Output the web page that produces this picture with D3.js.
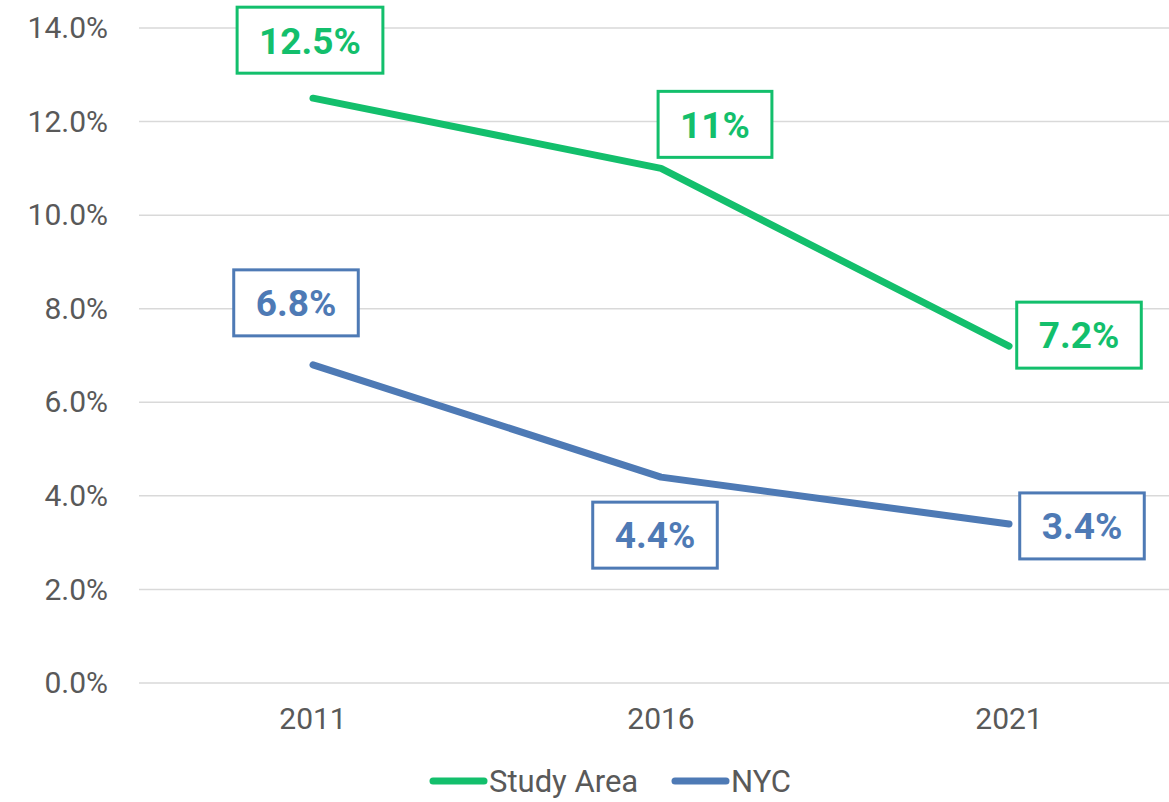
<!DOCTYPE html>
<html>
<head>
<meta charset="utf-8">
<script src="https://cdn.jsdelivr.net/npm/d3@7"></script>
<style>
  body { margin: 0; background: #fff; }
  svg { display: block; font-family: Roboto, sans-serif; }
</style>
</head>
<body>
<div id="chart"></div>
<script>
// data
const years = ['2011', '2016', '2021'];
const studyArea = [0.125, 0.11, 0.072];
const nyc = [0.068, 0.044, 0.034];
const yTicks = [0, 0.02, 0.04, 0.06, 0.08, 0.10, 0.12, 0.14];

const width = 1169, height = 802;

const series = [
  { name: 'Study Area', values: studyArea, color: '#13BF6C',
    // label box centre relative to the point
    offsets: [[-3, -58], [54, -44], [70, -11]] },
  { name: 'NYC', values: nyc, color: '#4E7AB5',
    offsets: [[-17, -62], [-6, 58], [73, 2]] }
];

const svg = d3.select('#chart').append('svg')
  .attr('width', width)
  .attr('height', height);

const x = d3.scaleBand().domain(years).range([139, 1183]);
const y = d3.scaleLinear().domain([0, 0.14]).range([683, 28]);
const cx = d => x(d) + x.bandwidth() / 2;

// gridlines
svg.append('g')
  .selectAll('line')
  .data(yTicks)
  .enter().append('line')
  .attr('x1', 139).attr('x2', width)
  .attr('y1', d => y(d)).attr('y2', d => y(d))
  .attr('stroke', '#d9d9d9')
  .attr('stroke-width', 1.5);

// y axis labels
const yAxis = d3.axisLeft(y).tickValues(yTicks).tickFormat(d3.format('.1%')).tickSize(0).tickPadding(0);
svg.append('g')
  .attr('transform', 'translate(108,0)')
  .call(yAxis)
  .call(g => g.select('.domain').remove())
  .selectAll('text')
  .attr('font-family', 'Roboto, sans-serif')
  .attr('font-size', 30)
  .attr('fill', '#595959');

// x axis labels
const xAxis = d3.axisBottom(x).tickSize(0).tickPadding(0);
svg.append('g')
  .attr('transform', 'translate(0,708)')
  .call(xAxis)
  .call(g => g.select('.domain').remove())
  .selectAll('text')
  .attr('font-family', 'Roboto, sans-serif')
  .attr('font-size', 30)
  .attr('fill', '#595959');

const line = d3.line()
  .x((d, i) => cx(years[i]))
  .y(d => y(d));

series.forEach(s => {
  svg.append('path')
    .datum(s.values)
    .attr('fill', 'none')
    .attr('stroke', s.color)
    .attr('stroke-width', 7)
    .attr('stroke-linecap', 'round')
    .attr('stroke-linejoin', 'round')
    .attr('d', line);
});

// data labels
series.forEach(s => {
  s.values.forEach((v, i) => {
    const px = cx(years[i]) + s.offsets[i][0];
    const py = y(v) + s.offsets[i][1];
    const g = svg.append('g').attr('transform', `translate(${px},${py})`);
    const rect = g.append('rect');
    const t = g.append('text')
      .attr('text-anchor', 'middle')
      .attr('dy', '0.36em')
      .attr('font-size', 37)
      .attr('font-weight', 'bold')
      .attr('fill', s.color)
      .text(d3.format('.2~%')(v).replace(/(\.\d)\d*%/, '$1%'));
    const w = t.node().getBBox().width + 44;
    rect.attr('x', -w / 2).attr('y', -33)
      .attr('width', w).attr('height', 66)
      .attr('fill', '#fff')
      .attr('stroke', s.color)
      .attr('stroke-width', 3);
  });
});

// legend
const legend = svg.append('g').attr('transform', 'translate(0,781)');
const legendItems = [
  { x: 430, s: series[0] },
  { x: 672, s: series[1] }
];
legendItems.forEach(it => {
  legend.append('line')
    .attr('x1', it.x + 3).attr('x2', it.x + 54)
    .attr('y1', 0).attr('y2', 0)
    .attr('stroke', it.s.color)
    .attr('stroke-width', 7)
    .attr('stroke-linecap', 'round');
  legend.append('text')
    .attr('x', it.x + 59)
    .attr('dy', '0.36em')
    .attr('font-size', 31)
    .attr('fill', '#595959')
    .text(it.s.name);
});
</script>
</body>
</html>
